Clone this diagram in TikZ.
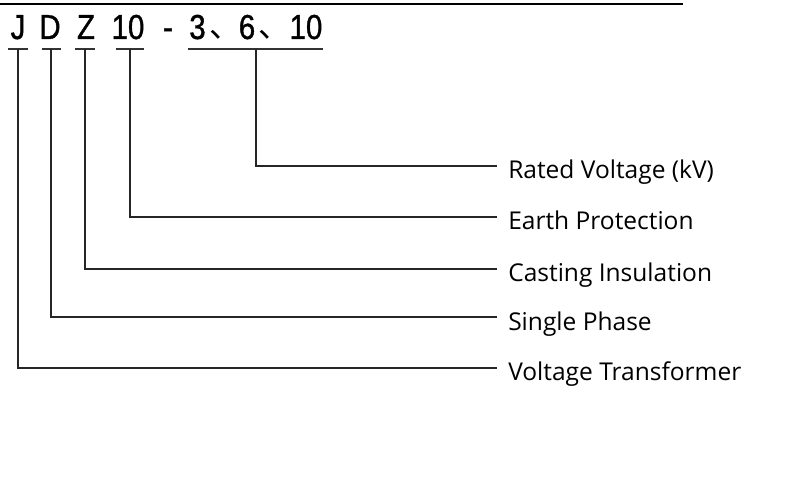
\documentclass[tikz,border=0pt]{standalone}
\usepackage{fontspec}
\setmainfont{Open Sans}
\newfontfamily\codefont[FakeStretch=0.85,FakeBold=1]{Liberation Sans}
\newfontfamily\cjkfont{Noto Sans CJK SC}
\begin{document}
\begin{tikzpicture}[x=0.75pt,y=-0.75pt,
  code/.style={font=\codefont\fontsize{26}{30}\selectfont, inner sep=0pt, anchor=base},
  cjk/.style={font=\cjkfont\fontsize{24}{26}\selectfont, inner sep=0pt, anchor=base west},
  lbl/.style={font=\fontsize{18.4}{22}\selectfont, inner sep=0pt, anchor=base west},
  conn/.style={line width=0.9pt, black!85},
  bar/.style={line width=1.1pt, black!80}]
\useasboundingbox (0,0) rectangle (800,502);
\draw[line width=1.2pt] (0,4) -- (683,4);
% code characters
\node[code] (cJ) at (18,39) {J};
\node[code] (cD) at (50,39) {D};
\node[code] (cZ) at (86,39) {Z};
\node[code] (c10) at (128,39) {10};
\node[code] (cdash) at (168,39) {-};
\node[code] (c3) at (197.5,39) {3};
\node[cjk] (k1) at (209,38) {、};
\node[code] (c6) at (247,39) {6};
\node[cjk] (k2) at (258.5,38) {、};
\node[code] (c1010) at (306,39) {10};
% underline coordinates
\coordinate (uJl) at (8,49);  \coordinate (uJr) at (28,49);  \coordinate (uJ) at (18,49);
\coordinate (uDl) at (42,49); \coordinate (uDr) at (61,49);  \coordinate (uD) at (51,49);
\coordinate (uZl) at (75,49); \coordinate (uZr) at (95,49);  \coordinate (uZ) at (85,49);
\coordinate (uTl) at (116,49);\coordinate (uTr) at (144,49); \coordinate (uT) at (130,49);
\coordinate (uRl) at (188,49);\coordinate (uRr) at (323,49); \coordinate (uR) at (256,49);
\foreach \a/\b in {uJl/uJr,uDl/uDr,uZl/uZr,uTl/uTr,uRl/uRr} \draw[bar] (\a) -- (\b);
% labels
\node[lbl] (lR) at (508,179) {Rated Voltage (kV)};
\node[lbl] (lE) at (508,230) {Earth Protection};
\node[lbl] (lC) at (508,282) {Casting Insulation};
\node[lbl] (lS) at (508,330) {Single Phase};
\node[lbl] (lV) at (508,381) {Voltage Transformer};
\coordinate (eR) at (497,166);
\coordinate (eE) at (497,217);
\coordinate (eC) at (497,269);
\coordinate (eS) at (497,317);
\coordinate (eV) at (497,368);
\draw[conn] (uR) |- (eR);
\draw[conn] (uT) |- (eE);
\draw[conn] (uZ) |- (eC);
\draw[conn] (uD) |- (eS);
\draw[conn] (uJ) |- (eV);
\end{tikzpicture}
\end{document}
